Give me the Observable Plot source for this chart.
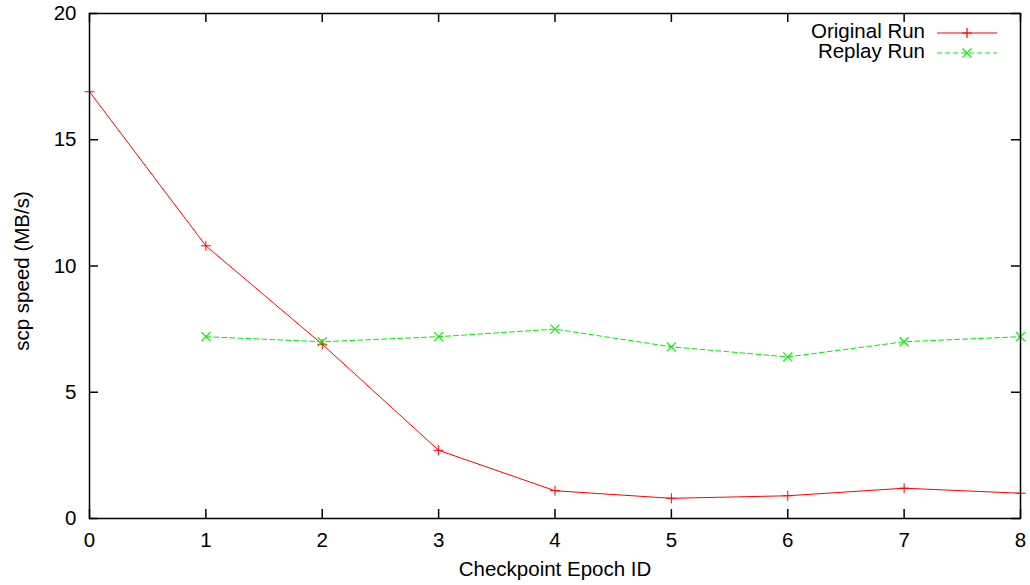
<!DOCTYPE html>
<html>
<head>
<meta charset="utf-8">
<script src="https://cdn.jsdelivr.net/npm/d3@7"></script>
<script src="https://cdn.jsdelivr.net/npm/@observablehq/plot@0.6"></script>
<style>
  html, body { margin: 0; padding: 0; background: #fff; }
  #wrap { position: relative; width: 1030px; height: 585px; font-family: "Liberation Sans", Arial, sans-serif; }
  #legend { position: absolute; top: 0; left: 0; width: 1030px; height: 585px; pointer-events: none; }
</style>
</head>
<body>
<div id="wrap"></div>
<script>
const epochs = [0, 1, 2, 3, 4, 5, 6, 7, 8];
const originalRun = [16.9, 10.8, 6.9, 2.7, 1.1, 0.8, 0.9, 1.2, 1.0];
const replayEpochs = [1, 2, 3, 4, 5, 6, 7, 8];
const replayRun = [7.2, 7.0, 7.2, 7.5, 6.8, 6.4, 7.0, 7.2];
const xTicks = [0, 1, 2, 3, 4, 5, 6, 7, 8];
const yTicks = [0, 5, 10, 15, 20];
const seriesNames = ["Original Run", "Replay Run"];

const orig = epochs.map((e, i) => ({x: e, y: originalRun[i]}));
const repl = replayEpochs.map((e, i) => ({x: e, y: replayRun[i]}));

const W = 1030, H = 585;
const mL = 89, mR = 10, mT = 13, mB = 67;
const pw = W - mL - mR, ph = H - mT - mB;
const tl = 9;
const FS = 20.5;
const RED = "#ff0000", GREEN = "#00f000";

const plusSym = { draw(ctx, size) { const r = Math.sqrt(size / Math.PI); ctx.moveTo(-r, 0); ctx.lineTo(r, 0); ctx.moveTo(0, -r); ctx.lineTo(0, r); } };
const timesSym = { draw(ctx, size) { const r = Math.sqrt(size / Math.PI) * 0.75; ctx.moveTo(-r, -r); ctx.lineTo(r, r); ctx.moveTo(-r, r); ctx.lineTo(r, -r); } };

const chart = Plot.plot({
  width: W, height: H,
  marginLeft: mL, marginRight: mR, marginTop: mT, marginBottom: mB,
  style: { fontFamily: "'Liberation Sans', Arial, sans-serif", fontSize: FS + "px", color: "#000", background: "#fff", overflow: "visible" },
  x: { domain: [0, 8] },
  y: { domain: [0, 20] },
  marks: [
    Plot.axisX(xTicks, { tickSize: 0, tickPadding: 14, fontSize: FS, label: null, tickFormat: d => String(d) }),
    Plot.axisY(yTicks, { tickSize: 0, tickPadding: 13, fontSize: FS, label: null, tickFormat: d => String(d) }),
    Plot.ruleX(xTicks, { x: d => d, insetTop: ph - tl, stroke: "#000", strokeWidth: 1.5 }),
    Plot.ruleX(xTicks, { x: d => d, insetBottom: ph - tl, stroke: "#000", strokeWidth: 1.5 }),
    Plot.ruleY(yTicks, { y: d => d, insetRight: pw - tl, stroke: "#000", strokeWidth: 1.5 }),
    Plot.ruleY(yTicks, { y: d => d, insetLeft: pw - tl, stroke: "#000", strokeWidth: 1.5 }),
    Plot.line(orig, { x: "x", y: "y", stroke: RED, strokeWidth: 1 }),
    Plot.dot(orig, { x: "x", y: "y", symbol: plusSym, r: 5, stroke: RED, fill: "none", strokeWidth: 1 }),
    Plot.line(repl, { x: "x", y: "y", stroke: GREEN, strokeWidth: 1, strokeDasharray: "5,3" }),
    Plot.dot(repl, { x: "x", y: "y", symbol: timesSym, r: 6, stroke: GREEN, fill: "none", strokeWidth: 1.2 }),
    Plot.frame({ stroke: "#000", strokeWidth: 1.5 }),
    Plot.text(["Checkpoint Epoch ID"], { frameAnchor: "bottom", dy: 57, text: d => d, fontSize: FS, fill: "#000" }),
    Plot.text(["scp speed (MB/s)"], { frameAnchor: "left", textAnchor: "middle", dx: -67, dy: 5, rotate: -90, text: d => d, fontSize: FS, fill: "#000" })
  ]
});

const wrap = document.getElementById("wrap");
wrap.appendChild(chart);

// Legend overlay (gnuplot-style, inside top-right)
const ns = "http://www.w3.org/2000/svg";
const leg = document.createElementNS(ns, "svg");
leg.setAttribute("id", "legend");
leg.setAttribute("width", W); leg.setAttribute("height", H);
const items = [
  { name: seriesNames[0], color: RED, dash: null, sym: "plus", y: 33 },
  { name: seriesNames[1], color: GREEN, dash: "5,3", sym: "times", y: 53 }
];
for (const it of items) {
  const t = document.createElementNS(ns, "text");
  t.setAttribute("x", 925); t.setAttribute("y", it.y);
  t.setAttribute("text-anchor", "end"); t.setAttribute("dominant-baseline", "middle");
  t.setAttribute("font-size", FS); t.setAttribute("font-family", "'Liberation Sans', Arial, sans-serif");
  t.textContent = it.name;
  leg.appendChild(t);
  const l = document.createElementNS(ns, "line");
  l.setAttribute("x1", 937); l.setAttribute("x2", 997); l.setAttribute("y1", it.y); l.setAttribute("y2", it.y);
  l.setAttribute("stroke", it.color); l.setAttribute("stroke-width", 1);
  if (it.dash) l.setAttribute("stroke-dasharray", it.dash);
  leg.appendChild(l);
  const p = document.createElementNS(ns, "path");
  const cx = 967, cy = it.y;
  p.setAttribute("d", it.sym === "plus"
    ? `M${cx-5},${cy}L${cx+5},${cy}M${cx},${cy-5}L${cx},${cy+5}`
    : `M${cx-4.5},${cy-4.5}L${cx+4.5},${cy+4.5}M${cx-4.5},${cy+4.5}L${cx+4.5},${cy-4.5}`);
  p.setAttribute("stroke", it.color); p.setAttribute("fill", "none"); p.setAttribute("stroke-width", 1.2);
  leg.appendChild(p);
}
wrap.appendChild(leg);
</script>
</body>
</html>
